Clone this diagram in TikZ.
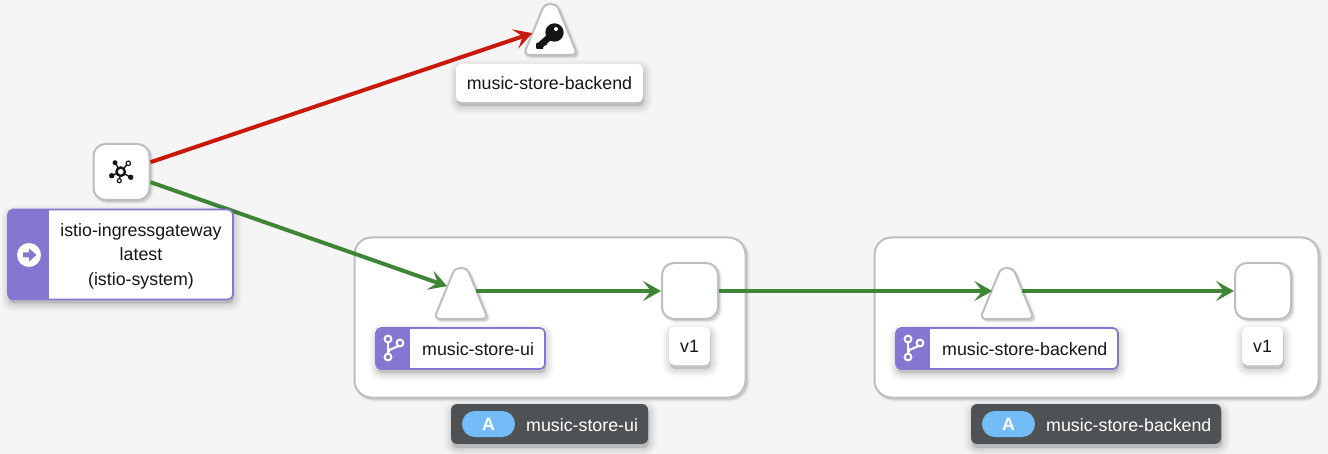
\documentclass[tikz,border=0pt]{standalone}
\usepackage{fontspec}
\setmainfont{Liberation Sans}
\usetikzlibrary{ arrows.meta }
\definecolor{pagebg}{HTML}{F5F5F5}
\definecolor{bordergrey}{HTML}{BCBEC0}
\definecolor{tagpurple}{HTML}{8476D1}
\definecolor{okgreen}{HTML}{3E8635}
\definecolor{failred}{HTML}{C9190B}
\definecolor{appdark}{HTML}{4F5255}
\definecolor{appblue}{HTML}{73BCF7}
\definecolor{inkblack}{HTML}{151515}
\tikzset{haze/.style args={#1/#2/#3/#4}{preaction={draw=black, fill=black, line width=#1, draw opacity=#2, fill opacity=#2, transform canvas={xshift=#3, yshift=#4}}}}
\tikzstyle{soft} = [haze=16pt/.025/1pt/-4pt, haze=12pt/.03/1pt/-4pt, haze=8pt/.035/1pt/-4pt, haze=4pt/.04/1pt/-4pt]
\tikzstyle{faint} = [haze=5pt/.03/2pt/-2pt, haze=2pt/.07/2pt/-2pt]
\tikzstyle{box} = [rectangle, draw=bordergrey, fill=white, line width=2pt, rounded corners=17pt, faint]
\tikzstyle{wl} = [rectangle, draw=bordergrey, fill=white, line width=2pt, rounded corners=12pt, minimum width=56pt, minimum height=56pt, inner sep=0pt, faint]
\tikzstyle{tri} = [draw=bordergrey, fill=white, line width=2pt, faint]
\tikzstyle{lbl} = [rectangle, fill=white, rounded corners=5pt, inner sep=0pt, text=inkblack, soft]
\tikzstyle{txt} = [inner sep=0pt, text=inkblack]
\tikzstyle{appbox} = [rectangle, fill=appdark, rounded corners=6pt, minimum height=40pt, inner sep=0pt, soft]
\tikzstyle{apppill} = [rectangle, fill=appblue, rounded corners=12.9pt, minimum width=53pt, minimum height=26pt, inner sep=0pt, text=white, font=\fontsize{17.8}{24.5}\bfseries]
\tikzstyle{edge_ok} = [draw=okgreen, line width=4pt, -{Stealth[length=18pt, width=20pt, inset=8pt]}]
\tikzstyle{edge_bad} = [draw=failred, line width=4pt, -{Stealth[length=18pt, width=20pt, inset=8pt]}]
\tikzset{tag/.style={rectangle, draw=tagpurple, fill=white, line width=1.6pt, rounded corners=5pt, inner sep=0pt, soft,
    path picture={\fill [tagpurple, sharp corners] (path picture bounding box.south west) rectangle ([xshift=#1]path picture bounding box.north west);}}}

\begin{document}
\begin{tikzpicture}[x=1pt, y=-1pt, font=\fontsize{17.8}{24.5}\selectfont]
  \useasboundingbox [fill=pagebg] (0, 0) rectangle (1328, 454);

  % namespace boxes
  \node (uibox) [box, minimum width=391pt, minimum height=160pt] at (550, 317.5) {};
  \node (bebox) [box, minimum width=444pt, minimum height=160pt] at (1096.5, 317.5) {};

  % graph nodes
  \node (gw) [wl] at (121.5, 172) {};
  \foreach \tx/\ty/\tsize/\tname in {550.5/27/38/keysvc, 461/291/29/uisvc, 1007/291/29/besvc} {
    \draw [tri] (\tx-21, \ty+28) -- (\tx+21, \ty+28)
      .. controls (\tx+24.3, \ty+28) and (\tx+26, \ty+25.5) .. (\tx+24.7, \ty+22.4) -- (\tx+8.2, \ty-17.8)
      .. controls (\tx+5.2, \ty-25.1) and (\tx-5.2, \ty-25.1) .. (\tx-8.2, \ty-17.8) -- (\tx-24.7, \ty+22.4)
      .. controls (\tx-26, \ty+25.5) and (\tx-24.3, \ty+28) .. (\tx-21, \ty+28) -- cycle;
    \node (\tname) [circle, inner sep=0pt, minimum size=\tsize pt] at (\tx, \ty) {};
  }
  \node (uiv1) [wl] at (690, 291) {};
  \node (bev1) [wl] at (1263, 291) {};

  % connectors
  \draw [edge_bad] (gw) -- (keysvc);
  \draw [edge_ok] (gw) -- (uisvc);
  \draw [edge_ok] (uisvc) -- (uiv1);
  \draw [edge_ok] (uiv1) -- (besvc);
  \draw [edge_ok] (besvc) -- (bev1);

  % gateway icon
  \draw [line width=1.4pt, inkblack] (120.7, 171.7) -- (115, 162.7) (120.7, 171.7) -- (128.3, 163.3) (120.7, 171.7) -- (111.7, 175.7) (120.7, 171.7) -- (130.7, 177.3) (120.7, 171.7) -- (119.3, 180.7);
  \draw [line width=2.4pt, inkblack, fill=white] (120.7, 171.7) circle (4.2pt);
  \fill [inkblack] (115, 162.7) circle (2.5pt) (111.7, 175.7) circle (2.7pt) (130.7, 177.3) circle (2.7pt);
  \draw [line width=1.2pt, inkblack, fill=white] (128.3, 163.3) circle (2.2pt) (119.3, 180.7) circle (2pt);

  % key icon
  \fill [inkblack] (554.5, 32.5) circle (9.2pt);
  \draw [inkblack, line width=6.5pt] (553, 34) -- (541, 44.5);
  \fill [inkblack] (536, 43) -- (546, 41) -- (547, 45) -- (543.5, 45.5) -- (543, 49) -- (538, 49) [rounded corners=1pt] -- (536, 49) -- cycle;
  \fill [white] (556, 29) circle (2pt);

  % labels
  \node (gwtag) [tag=41pt, minimum width=225pt, minimum height=90pt] at (120.5, 254.5) {};
  \fill [white] (29, 255) circle (12pt);
  \fill [tagpurple] (23, 252.5) -- (29, 252.5) -- (29, 248.5) -- (36.5, 255) -- (29, 261.5) -- (29, 257.5) -- (23, 257.5) -- cycle;
  \node (gwtext) [txt, align=center] at (141, 256) {istio-ingressgateway\\latest\\(istio-system)};

  \node (keylabel) [lbl, minimum width=187pt, minimum height=38pt] at (549.5, 83) {music-store-backend};

  \node (uitag) [tag=34pt, minimum width=169pt, minimum height=41pt] at (460.5, 348.5) {};
  \node (uitext) [txt, anchor=west] at (422, 349) {music-store-ui};
  \node (betag) [tag=34pt, minimum width=222pt, minimum height=41pt] at (1007, 348.5) {};
  \node (betext) [txt, anchor=west] at (942, 349) {music-store-backend};
  \foreach \bx in {0, 520} {
    \begin{scope}[xshift=\bx]
      \draw [white, line width=2pt] (388, 339) -- (388, 357) (400, 343) .. controls (400, 349) and (388, 347) .. (388, 353);
      \draw [white, line width=2pt, fill=tagpurple] (388, 339) circle (3.4pt) (400, 343) circle (3.4pt) (388, 357) circle (3.4pt);
    \end{scope}
  }

  \node (uiv1label) [lbl, minimum width=41pt, minimum height=38pt] at (689.5, 346) {v1};
  \node (bev1label) [lbl, minimum width=41pt, minimum height=38pt] at (1262.5, 346) {v1};

  % app boxes
  \node (uiapp) [appbox, minimum width=197pt] at (549.5, 424) {};
  \node (uipill) [apppill] at (488.5, 424) {A};
  \node (uiname) [txt, text=white, anchor=west] at (526, 425) {music-store-ui};
  \node (beapp) [appbox, minimum width=250pt] at (1096, 424) {};
  \node (bepill) [apppill] at (1008.5, 424) {A};
  \node (bename) [txt, text=white, anchor=west] at (1046, 425) {music-store-backend};
\end{tikzpicture}
\end{document}
